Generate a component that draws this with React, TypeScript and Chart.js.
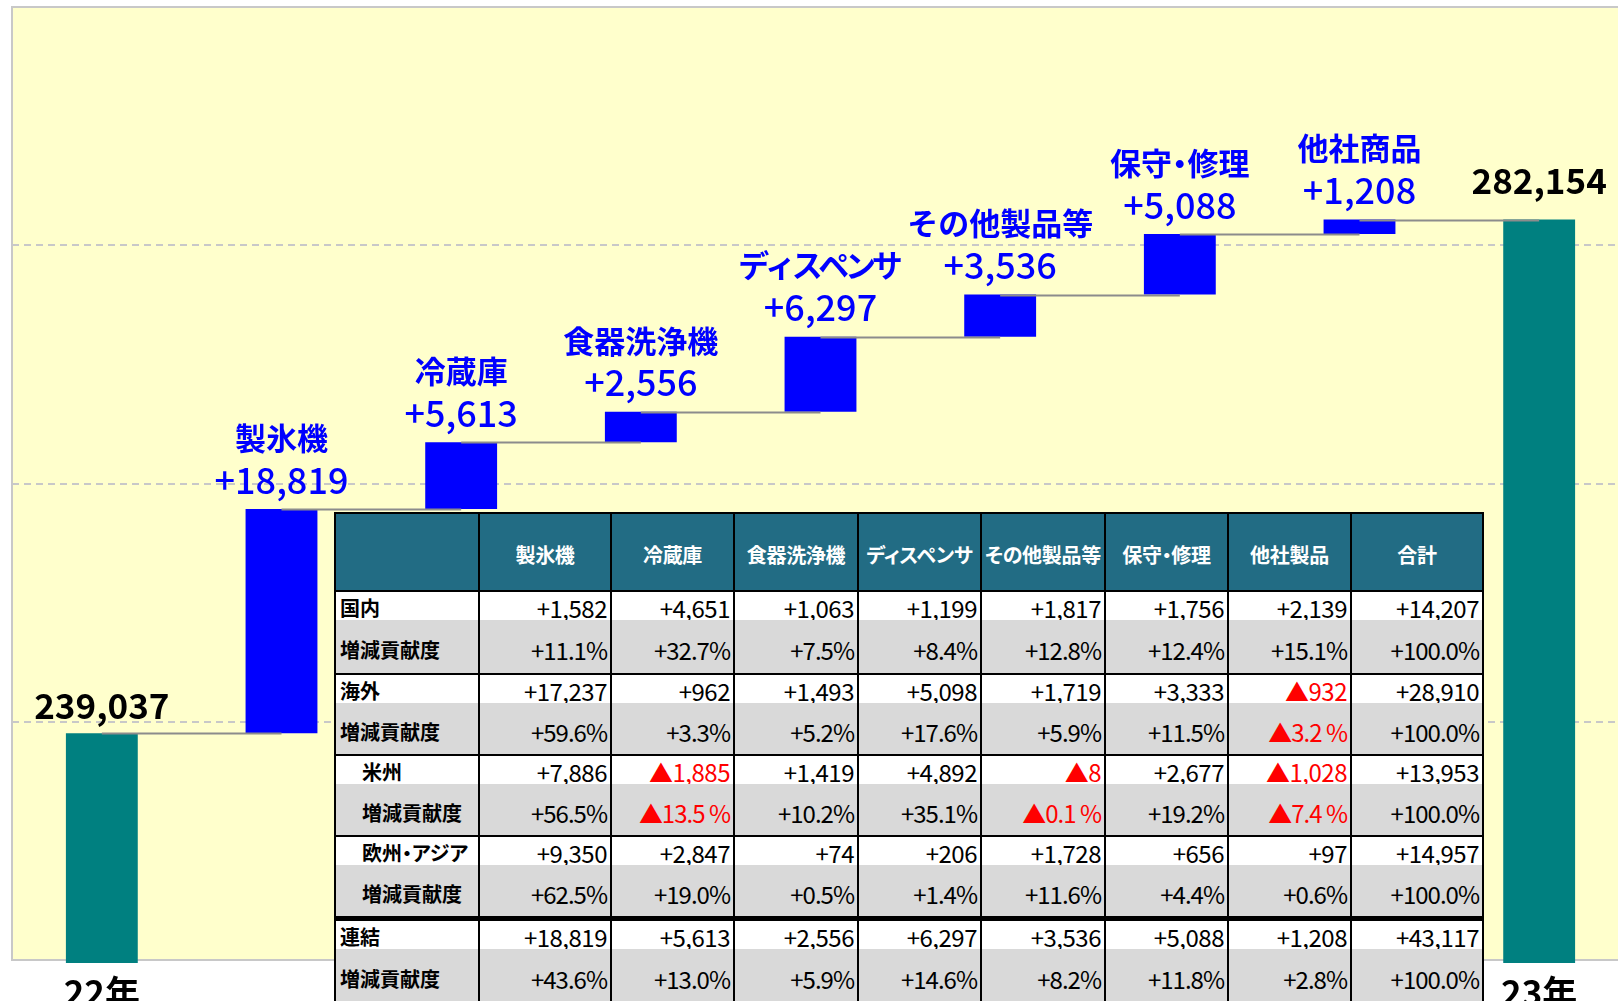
import React, { useEffect, useRef } from 'react';
import { Chart, registerables } from 'chart.js';

Chart.register(...registerables);

// ---- chart data ----
const categories = ['22年', '製氷機', '冷蔵庫', '食器洗浄機', 'ディスペンサ', 'その他製品等', '保守・修理', '他社商品', '23年'];
const startTotal = 239037;
const endTotal = 282154;
const increments = [18819, 5613, 2556, 6297, 3536, 5088, 1208];
const yTicks = [220000, 240000, 260000, 280000, 300000];

// ---- table data ----
const tableHeaders = ['製氷機', '冷蔵庫', '食器洗浄機', 'ディスペンサ', 'その他製品等', '保守・修理', '他社製品', '合計'];
const domestic = [1582, 4651, 1063, 1199, 1817, 1756, 2139, 14207];
const domesticPct = [11.1, 32.7, 7.5, 8.4, 12.8, 12.4, 15.1, 100.0];
const overseas = [17237, 962, 1493, 5098, 1719, 3333, -932, 28910];
const overseasPct = [59.6, 3.3, 5.2, 17.6, 5.9, 11.5, -3.2, 100.0];
const americas = [7886, -1885, 1419, 4892, -8, 2677, -1028, 13953];
const americasPct = [56.5, -13.5, 10.2, 35.1, -0.1, 19.2, -7.4, 100.0];
const euroAsia = [9350, 2847, 74, 206, 1728, 656, 97, 14957];
const euroAsiaPct = [62.5, 19.0, 0.5, 1.4, 11.6, 4.4, 0.6, 100.0];
const consolidated = [18819, 5613, 2556, 6297, 3536, 5088, 1208, 43117];
const consolidatedPct = [43.6, 13.0, 5.9, 14.6, 8.2, 11.8, 2.8, 100.0];
const pctLabel = '増減貢献度';

const rowGroups = [
  { label: '国内', indent: false, values: domestic, pcts: domesticPct },
  { label: '海外', indent: false, values: overseas, pcts: overseasPct },
  { label: '米州', indent: true, values: americas, pcts: americasPct },
  { label: '欧州・アジア', indent: true, values: euroAsia, pcts: euroAsiaPct },
  { label: '連結', indent: false, values: consolidated, pcts: consolidatedPct },
];

const JP = '"Noto Sans CJK JP", "Noto Sans", sans-serif';

const fmtNum = (v: number) => (v < 0 ? '▲' + Math.abs(v).toLocaleString('en-US') : '+' + v.toLocaleString('en-US'));
const fmtPct = (v: number) => (v < 0 ? '▲' + Math.abs(v).toFixed(1) + ' %' : '+' + v.toFixed(1) + '%');

// layout of table (relative to its container)
const colLines = [0, 144, 276, 399, 523, 646, 770, 893, 1016, 1148];
const groupTops = [80, 163, 244, 325, 409];
const groupBottoms = [161, 242, 323, 404, 500];
const whiteBand = 28;

function Table() {
  const cells: React.ReactNode[] = [];
  for (let c = 0; c < colLines.length - 1; c++) {
    const left = colLines[c] + 2;
    const width = colLines[c + 1] - left;
    cells.push(
      <div key={'h' + c} style={{ position: 'absolute', left, top: 2, width, height: 76, background: '#226C84', color: '#fff', fontWeight: 'bold', fontSize: 20, display: 'flex', alignItems: 'center', justifyContent: 'center', paddingTop: 5, boxSizing: 'border-box', whiteSpace: 'nowrap', fontFeatureSettings: '"palt"', letterSpacing: '-0.3px' }}>
        {c === 0 ? '' : tableHeaders[c - 1]}
      </div>
    );
  }
  rowGroups.forEach((g, gi) => {
    const top = groupTops[gi];
    const bottom = groupBottoms[gi];
    for (let c = 0; c < colLines.length - 1; c++) {
      const left = colLines[c] + 2;
      const width = colLines[c + 1] - left;
      const isLabel = c === 0;
      const v = isLabel ? 0 : g.values[c - 1];
      const p = isLabel ? 0 : g.pcts[c - 1];
      const common: React.CSSProperties = { position: 'absolute', left, width, display: 'flex', alignItems: 'center', boxSizing: 'border-box', whiteSpace: 'nowrap' };
      cells.push(
        <div key={`w${gi}-${c}`} style={{ ...common, top, height: whiteBand, background: '#fff', justifyContent: isLabel ? 'flex-start' : 'flex-end', paddingLeft: isLabel ? (g.indent ? 26 : 4) : 0, paddingRight: isLabel ? 0 : 3, paddingTop: 2 }}>
          {isLabel ? (
            <span style={{ fontWeight: 'bold', fontSize: 20, fontFeatureSettings: '"palt"' }}>{g.label}</span>
          ) : (
            <span style={{ fontSize: 24, letterSpacing: '-0.5px', color: v < 0 ? '#FF0000' : '#000' }}>{fmtNum(v)}</span>
          )}
        </div>
      );
      cells.push(
        <div key={`g${gi}-${c}`} style={{ ...common, top: top + whiteBand, height: Math.min(bottom - top - whiteBand, 53), background: '#D9D9D9', justifyContent: isLabel ? 'flex-start' : 'flex-end', paddingLeft: isLabel ? (g.indent ? 26 : 4) : 0, paddingRight: isLabel ? 0 : 3, paddingTop: 6 }}>
          {isLabel ? (
            <span style={{ fontWeight: 'bold', fontSize: 20 }}>{pctLabel}</span>
          ) : (
            <span style={{ fontSize: 24, letterSpacing: '-1px', color: p < 0 ? '#FF0000' : '#000' }}>{fmtPct(p)}</span>
          )}
        </div>
      );
      if (gi === rowGroups.length - 1) {
        cells.push(
          <div key={`f${gi}-${c}`} style={{ position: 'absolute', left, width, top: top + whiteBand + 53, height: 40, background: '#D9D9D9' }} />
        );
      }
    }
  });
  return (
    <div style={{ position: 'absolute', left: 334, top: 512, width: 1150, height: 500, background: '#000', fontFamily: JP, color: '#000' }}>
      {cells}
    </div>
  );
}

// draws text centred at cx, with katakana and the middle dot set proportionally (like "palt")
function drawPropText(ctx: CanvasRenderingContext2D, text: string, cx: number, y: number, size: number) {
  const chars = Array.from(text);
  const widths = chars.map((ch) => {
    if (ch === '・') return size * 0.5;
    const w = ctx.measureText(ch).width;
    return /[\u30A0-\u30FF]/.test(ch) ? w * 0.86 : w;
  });
  const total = widths.reduce((a, b) => a + b, 0);
  let x = cx - total / 2;
  const prevAlign = ctx.textAlign;
  ctx.textAlign = 'center';
  chars.forEach((ch, i) => {
    ctx.fillText(ch, x + widths[i] / 2, y);
    x += widths[i];
  });
  ctx.textAlign = prevAlign;
}

export default function App() {
  const ref = useRef<HTMLCanvasElement>(null);

  useEffect(() => {
    if (!ref.current) return;
    const cum: number[] = [startTotal];
    let acc = startTotal;
    const bars: [number, number][] = [[0, startTotal]];
    increments.forEach((inc) => {
      bars.push([acc, acc + inc]);
      acc += inc;
      cum.push(acc);
    });
    bars.push([0, endTotal]);
    const last = categories.length - 1;

    const bgPlugin = {
      id: 'plotBg',
      beforeDraw(chart: any) {
        const { ctx, chartArea: a } = chart;
        ctx.save();
        ctx.fillStyle = '#FFFFCC';
        ctx.fillRect(a.left, a.top, a.right - a.left, a.bottom - a.top);
        ctx.restore();
      },
      beforeDatasetsDraw(chart: any) {
        const { ctx, chartArea: a } = chart;
        ctx.save();
        ctx.strokeStyle = '#C8C8C8';
        ctx.lineWidth = 2;
        ctx.beginPath();
        ctx.moveTo(a.right + 5, a.top);
        ctx.lineTo(a.left, a.top);
        ctx.lineTo(a.left, a.bottom);
        ctx.lineTo(a.right + 5, a.bottom);
        ctx.stroke();
        ctx.restore();
      },
    };

    const labelPlugin = {
      id: 'wfLabels',
      afterDatasetsDraw(chart: any) {
        const { ctx } = chart;
        const meta = chart.getDatasetMeta(0);
        const ys = chart.scales.y;
        ctx.save();
        ctx.strokeStyle = '#8C8C8C';
        ctx.lineWidth = 2;
        for (let i = 0; i < cum.length; i++) {
          const y = Math.round(ys.getPixelForValue(cum[i])) + 0.5;
          ctx.beginPath();
          ctx.moveTo(meta.data[i].x, y);
          ctx.lineTo(meta.data[i + 1].x, y);
          ctx.stroke();
        }
        ctx.textAlign = 'center';
        ctx.textBaseline = 'middle';
        meta.data.forEach((el: any, i: number) => {
          const top = Math.min(el.y, el.base);
          if (i === 0 || i === last) {
            ctx.fillStyle = '#000';
            ctx.font = `bold 35px ${JP}`;
            const v = i === 0 ? startTotal : endTotal;
            ctx.fillText(v.toLocaleString('en-US'), el.x, top - (i === 0 ? 28 : 39));
          } else {
            ctx.fillStyle = '#0000FF';
            ctx.font = `bold 31px ${JP}`;
            drawPropText(ctx, categories[i], el.x, top - 71, 31);
            ctx.font = `500 36px ${JP}`;
            ctx.fillText('+' + increments[i - 1].toLocaleString('en-US'), el.x, top - 29);
          }
        });
        ctx.restore();
      },
    };

    const chart = new Chart(ref.current, {
      type: 'bar',
      data: {
        labels: categories,
        datasets: [
          {
            data: bars as any,
            backgroundColor: categories.map((_, i) => (i === 0 || i === last ? '#008080' : '#0000FF')),
            barPercentage: 0.4,
            categoryPercentage: 1.0,
            borderSkipped: false,
            clip: { left: 0, top: 0, right: 0, bottom: 3 } as any,
          },
        ],
      },
      options: {
        responsive: false,
        animation: false,
        devicePixelRatio: 1,
        layout: { padding: { left: 12, top: 7, right: 0, bottom: 0 } },
        plugins: { legend: { display: false }, tooltip: { enabled: false } },
        scales: {
          x: {
            grid: { display: false, drawTicks: false },
            border: { display: false },
            ticks: { color: '#000', font: { family: JP, size: 35, weight: 'bold' }, padding: 12, maxRotation: 0 },
            afterFit: (s: any) => {
              s.height = 80;
            },
          },
          y: {
            min: yTicks[0],
            max: yTicks[yTicks.length - 1],
            afterBuildTicks: (s: any) => {
              s.ticks = yTicks.map((v) => ({ value: v }));
            },
            grid: {
              drawTicks: false,
              lineWidth: 2,
              color: (c: any) => (c.tick && (c.tick.value === yTicks[0] || c.tick.value === yTicks[yTicks.length - 1]) ? 'rgba(0,0,0,0)' : '#C8C8C8'),
            },
            border: { display: false, dash: [7, 5] },
            ticks: { display: false },
            afterFit: (s: any) => {
              s.width = 0;
            },
          },
        },
      },
      plugins: [bgPlugin, labelPlugin],
    });
    return () => chart.destroy();
  }, []);

  return (
    <div style={{ position: 'absolute', left: 0, top: 0, width: 1618, height: 1001, overflow: 'hidden', background: '#fff' }}>
      <canvas ref={ref} width={1629} height={1040} style={{ position: 'absolute', left: 0, top: 0, display: 'block' }} />
      <Table />
    </div>
  );
}
